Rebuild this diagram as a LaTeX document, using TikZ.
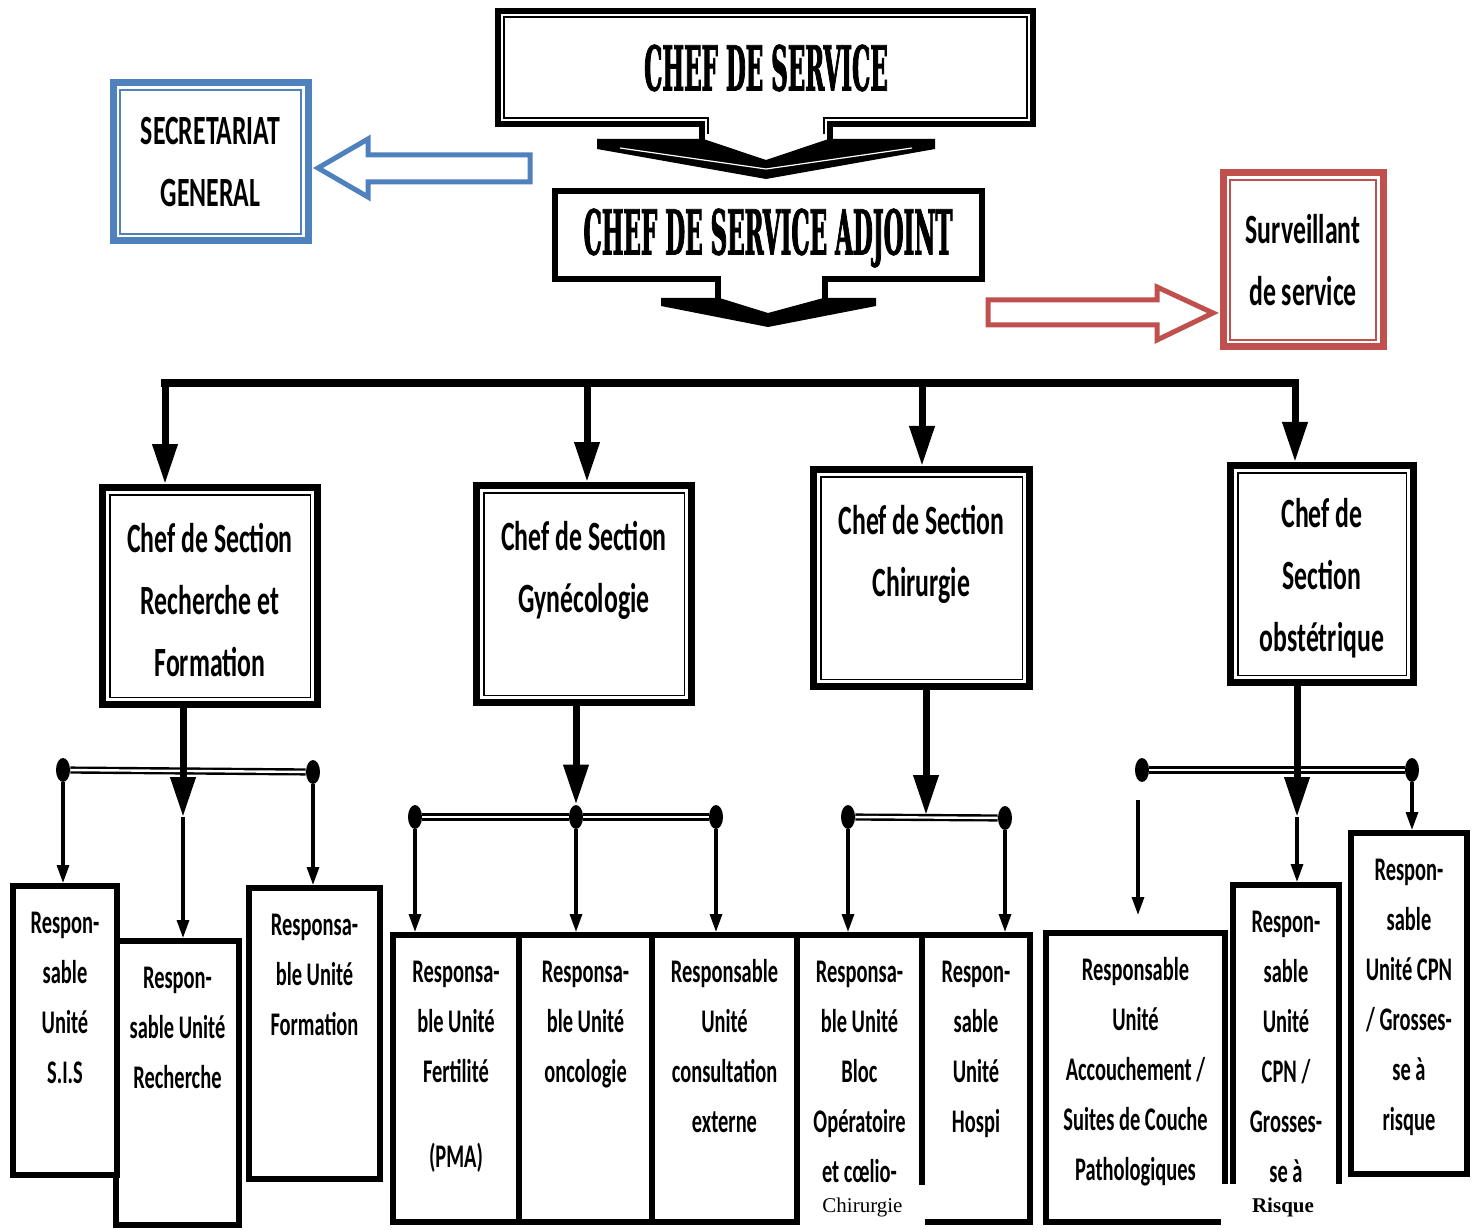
\documentclass[tikz,border=0pt]{standalone}
\usepackage{fontspec}
\usetikzlibrary{arrows.meta,positioning,shapes.geometric}

\newfontfamily\narrowsf{Carlito}[FakeStretch=0.62]
\newfontfamily\westfont{DejaVu Serif}[FakeStretch=0.37, FakeBold=1.2]
\newfontfamily\romanfont{Liberation Serif}
\newcommand\titlefont{\westfont\bfseries\fontsize{31pt}{36pt}\selectfont}
\newcommand\headfont{\narrowsf\bfseries\fontsize{20.8pt}{31pt}\selectfont}
\newcommand\unitfont{\narrowsf\bfseries\fontsize{16.5pt}{25pt}\selectfont}
\definecolor{secblue}{HTML}{4F81BD}
\definecolor{survred}{HTML}{C0504D}
\newlength\px
\setlength\px{0.5pt}
% box text: width, height, top gap (in px), lines
\newcommand\topbox[4]{\parbox[c][#2\px][t]{#1\px}{\centering\vspace*{#3\px}\strut #4}}

\begin{document}
\begin{tikzpicture}[x=0.5pt, y=-0.5pt, line join=miter,
  >={Triangle[length=9pt, width=6pt]},
  sect/.style={draw, line width=3.5pt, fill=white, inner sep=0pt, anchor=north west, font=\headfont,
    path picture={\draw[line width=.8pt] ([shift={(3.6pt,-3.6pt)}]path picture bounding box.north west) rectangle ([shift={(-3.6pt,3.6pt)}]path picture bounding box.south east);}},
  side/.style={draw=#1, line width=3.5pt, fill=white, inner sep=0pt, font=\headfont, align=center,
    path picture={\draw[#1, line width=1pt] ([shift={(3.6pt,-3.6pt)}]path picture bounding box.north west) rectangle ([shift={(-3.6pt,3.6pt)}]path picture bounding box.south east);}},
  unit/.style={draw, line width=3pt, fill=white, inner sep=0pt, anchor=north west, font=\unitfont},
  dot/.style={ellipse, fill, inner sep=0pt, minimum width=7pt, minimum height=12pt},
  bar/.style={line width=1.2pt, double=white, double distance=1.2pt},
  drop/.style={line width=3.5pt, -{Triangle[length=20pt, width=12pt]}},
  branch/.style={line width=1.6pt, ->},
  mask/.style={fill=white, inner sep=0pt, font=\romanfont\fontsize{10.5pt}{12pt}\selectfont}]

  \path[use as bounding box, fill=white] (0,0) rectangle (1479,1230);

  % Top of the chart
  \node[font=\titlefont, inner sep=0pt] (chef) at (766,68) {CHEF DE SERVICE};
  \draw[line width=3pt] (702,140) -- (702,124) -- (498,124) -- (498,11) -- (1033,11) -- (1033,124)
    -- (830,124) -- (830,140);
  \draw[line width=.8pt] (708,134) -- (708,118) -- (504,118) -- (504,17) -- (1027,17) -- (1027,118)
    -- (824,118) -- (824,134);
  \fill (597,139) -- (703.5,139) -- (766,160) -- (828.5,139) -- (935,139) -- (935,149) -- (766,179)
    -- (597,149) -- cycle;
  \draw[white, line width=.6pt] (620,148) -- (766,169) -- (912,148);

  \node[font=\titlefont, inner sep=0pt] (adj) at (768,238) {CHEF DE SERVICE ADJOINT};
  \draw[line width=3pt] (718,299) -- (718,279) -- (555,279) -- (555,191) -- (982,191) -- (982,279)
    -- (825,279) -- (825,299);
  \fill (661,298) -- (719.5,298) -- (768,313) -- (823.5,298) -- (876,298) -- (876,306) -- (768,327)
    -- (661,306) -- cycle;

  \node[side=secblue, minimum width=97.5pt, minimum height=79pt] (secr) at (210.5,162) {SECRETARIAT\\GENERAL};
  \draw[secblue, line width=2.5pt] (530,155) -- (368,155) -- (368,139) -- (318,168) -- (368,197)
    -- (368,182) -- (530,182) -- cycle;

  \node[side=survred, minimum width=80pt, minimum height=87pt] (surv) at (1303,260) {Surveillant\\de service};
  \draw[survred, line width=2.5pt] (988,300) -- (1157,300) -- (1157,287) -- (1213,313) -- (1157,340)
    -- (1157,325) -- (988,325) -- cycle;

  % Sections
  \node[sect] (sec1) at (99,484) {\topbox{215}{217}{22}{Chef de Section\\Recherche et\\Formation}};
  \node[sect] (sec2) at (473,482) {\topbox{215}{217}{22}{Chef de Section\\Gynécologie}};
  \node[sect] (sec3) at (810,466) {\topbox{216}{217}{22}{Chef de Section\\Chirurgie}};
  \node[sect] (sec4) at (1227,462) {\topbox{183}{217}{19}{Chef de\\Section\\obstétrique}};

  \coordinate (b1) at (165,383);
  \coordinate (b2) at (587,383);
  \coordinate (b3) at (922,383);
  \coordinate (b4) at (1295,383);
  \draw[line width=4pt, line cap=rect] (b1) -- (b4);
  \foreach \i in {1,...,4}
    \draw[drop] (b\i) -- (b\i |- sec\i.north);

  % Units
  \node[unit] (rech) at (113,938) {\topbox{123}{284}{12}{Respon-\\sable Unité\\Recherche}};
  \node[unit] (sis) at (10,883) {\topbox{104}{289}{12}{Respon-\\sable\\Unité\\S.I.S}};
  \node[unit] (form) at (246,885) {\topbox{131}{291}{12}{Responsa-\\ble Unité\\Formation}};
  \node[unit] (fert) at (390,932) {\topbox{126}{287}{12}{Responsa-\\ble Unité\\Fertilité\\[35\px](PMA)}};
  \node[unit] (onco) at (516,932) {\topbox{133}{287}{12}{Responsa-\\ble Unité\\oncologie}};
  \node[unit] (cons) at (649,932) {\topbox{145}{287}{12}{Responsable\\Unité\\consultation\\externe}};
  \node[unit] (bloc) at (794,932) {\topbox{125}{287}{12}{Responsa-\\ble Unité\\Bloc\\Opératoire\\et cœlio-}};
  \node[unit] (hosp) at (919,932) {\topbox{108}{287}{12}{Respon-\\sable\\Unité\\Hospi}};
  \node[unit] (acc) at (1043,930) {\topbox{179}{289}{12}{Responsable\\Unité\\Accouchement /\\Suites de Couche\\Pathologiques}};
  \node[unit] (cpn) at (1230,882) {\topbox{106}{342}{12}{Respon-\\sable\\Unité\\CPN /\\Grosses-\\se à}};
  \node[unit] (gar) at (1348,830) {\topbox{116}{341}{12}{Respon-\\sable\\Unité CPN\\/ Grosses-\\se à\\risque}};

  % Group 1
  \node[dot] (d11) at (63,770) {};
  \node[dot] (d12) at (313,772) {};
  \coordinate (m1) at (183,817);
  \draw[bar] (d11) -- (d12);
  \draw[drop] (m1 |- sec1.south) -- (m1);
  \draw[branch] (d11) -- (d11 |- sis.north);
  \draw[branch] (m1) -- (m1 |- rech.north);
  \draw[branch] (d12) -- (d12 |- form.north);

  % Group 2
  \node[dot] (d21) at (415,817) {};
  \node[dot] (d22) at (576,817) {};
  \node[dot] (d23) at (716,817) {};
  \draw[bar] (d21) -- (d22) (d22) -- (d23);
  \draw[drop] (d22 |- sec2.south) -- (d22);
  \draw[branch] (d21) -- (d21 |- fert.north);
  \draw[branch] (d22) -- (d22 |- onco.north);
  \draw[branch] (d23) -- (d23 |- cons.north);

  % Group 3
  \node[dot] (d31) at (848,817) {};
  \node[dot] (d32) at (1005,818) {};
  \coordinate (m3) at (926,815);
  \draw[bar] (d31) -- (d32);
  \draw[drop] (m3 |- sec3.south) -- (m3);
  \draw[branch] (d31) -- (d31 |- bloc.north);
  \draw[branch] (d32) -- (d32 |- hosp.north);

  % Group 4
  \node[dot] (d41) at (1142,770) {};
  \node[dot] (d42) at (1412,770) {};
  \coordinate (m4) at (1297,817);
  \coordinate (a4) at (1138,800);
  \coordinate (a4end) at (1138,915);
  \draw[bar] (d41) -- (d42);
  \draw[drop] (m4 |- sec4.south) -- (m4);
  \draw[branch] (m4) -- (m4 |- cpn.north);
  \draw[branch] (d42) -- (d42 |- gar.north);
  \draw[branch] (a4) -- (a4end);

  % Cut-off bottoms
  \node[mask, minimum width=62.5pt, minimum height=22.5pt] (chirmask) at (862.5,1207.5) {Chirurgie};
  \node[mask, minimum width=62pt, minimum height=23pt, font=\romanfont\bfseries\fontsize{10.5pt}{12pt}\selectfont] (risqmask) at (1283,1207) {Risque};
\end{tikzpicture}
\end{document}
